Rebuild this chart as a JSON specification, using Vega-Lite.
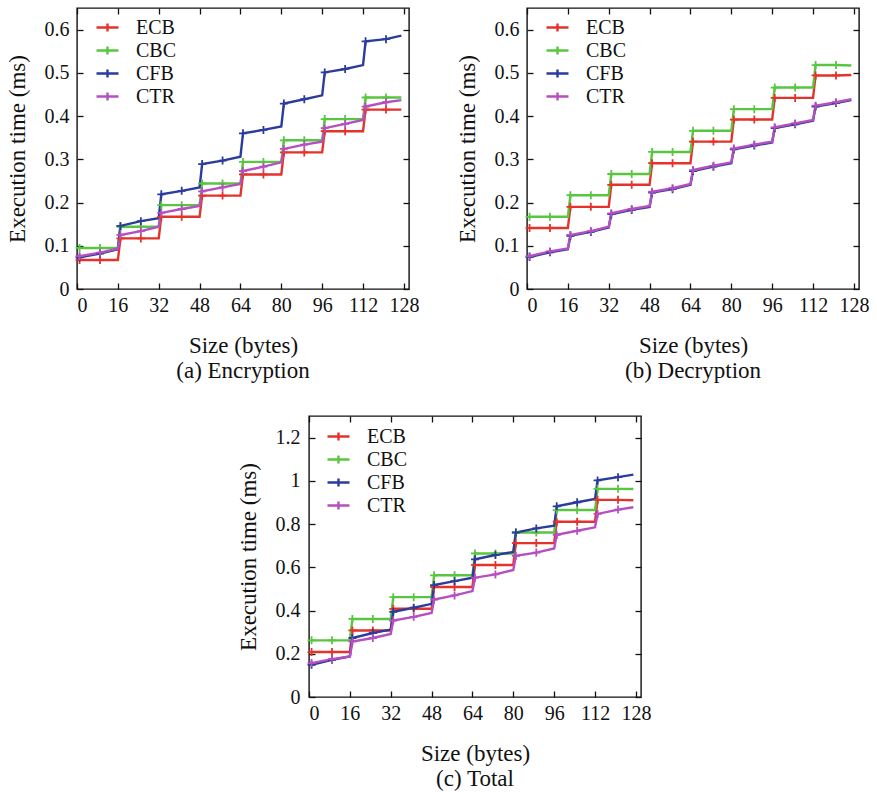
{
  "$schema": "https://vega.github.io/schema/vega-lite/v6.json",
  "padding": {"left": 5, "top": 6, "right": 5, "bottom": 5},
  "background": "white",
  "config": {
    "font": "Liberation Serif",
    "view": {"stroke": "#111", "strokeWidth": 1.4},
    "axis": {"domain": false, "grid": false, "ticks": true, "tickSize": 6, "tickColor": "#111", "tickWidth": 1.3, "labelFont": "Liberation Serif", "labelFontSize": 20, "labelColor": "#111", "titleFont": "Liberation Serif", "titleFontSize": 23, "titleFontWeight": "normal", "titleColor": "#111"},
    "legend": {"labelFont": "Liberation Serif", "labelFontSize": 20, "labelColor": "#111"},
    "title": {"font": "Liberation Serif", "fontSize": 23, "fontWeight": "normal", "color": "#111"}
  },
  "datasets": {
    "d": [
      {"p":"a","m":"ECB","s":1,"t":0.067,"k":1},{"p":"a","m":"ECB","s":9,"t":0.067,"k":1},{"p":"a","m":"ECB","s":16,"t":0.067,"k":0},
      {"p":"a","m":"ECB","s":17,"t":0.117,"k":1},{"p":"a","m":"ECB","s":25,"t":0.117,"k":1},{"p":"a","m":"ECB","s":32,"t":0.117,"k":0},
      {"p":"a","m":"ECB","s":33,"t":0.167,"k":1},{"p":"a","m":"ECB","s":41,"t":0.167,"k":1},{"p":"a","m":"ECB","s":48,"t":0.167,"k":0},
      {"p":"a","m":"ECB","s":49,"t":0.216,"k":1},{"p":"a","m":"ECB","s":57,"t":0.216,"k":1},{"p":"a","m":"ECB","s":64,"t":0.216,"k":0},
      {"p":"a","m":"ECB","s":65,"t":0.265,"k":1},{"p":"a","m":"ECB","s":73,"t":0.265,"k":1},{"p":"a","m":"ECB","s":80,"t":0.265,"k":0},
      {"p":"a","m":"ECB","s":81,"t":0.316,"k":1},{"p":"a","m":"ECB","s":89,"t":0.316,"k":1},{"p":"a","m":"ECB","s":96,"t":0.316,"k":0},
      {"p":"a","m":"ECB","s":97,"t":0.365,"k":1},{"p":"a","m":"ECB","s":105,"t":0.365,"k":1},{"p":"a","m":"ECB","s":112,"t":0.365,"k":0},
      {"p":"a","m":"ECB","s":113,"t":0.415,"k":1},{"p":"a","m":"ECB","s":121,"t":0.415,"k":1},{"p":"a","m":"ECB","s":127,"t":0.415,"k":0},
      {"p":"a","m":"CBC","s":1,"t":0.095,"k":1},{"p":"a","m":"CBC","s":9,"t":0.095,"k":1},{"p":"a","m":"CBC","s":16,"t":0.095,"k":0},
      {"p":"a","m":"CBC","s":17,"t":0.144,"k":1},{"p":"a","m":"CBC","s":25,"t":0.144,"k":1},{"p":"a","m":"CBC","s":32,"t":0.144,"k":0},
      {"p":"a","m":"CBC","s":33,"t":0.194,"k":1},{"p":"a","m":"CBC","s":41,"t":0.194,"k":1},{"p":"a","m":"CBC","s":48,"t":0.194,"k":0},
      {"p":"a","m":"CBC","s":49,"t":0.244,"k":1},{"p":"a","m":"CBC","s":57,"t":0.244,"k":1},{"p":"a","m":"CBC","s":64,"t":0.244,"k":0},
      {"p":"a","m":"CBC","s":65,"t":0.294,"k":1},{"p":"a","m":"CBC","s":73,"t":0.294,"k":1},{"p":"a","m":"CBC","s":80,"t":0.294,"k":0},
      {"p":"a","m":"CBC","s":81,"t":0.344,"k":1},{"p":"a","m":"CBC","s":89,"t":0.344,"k":1},{"p":"a","m":"CBC","s":96,"t":0.344,"k":0},
      {"p":"a","m":"CBC","s":97,"t":0.393,"k":1},{"p":"a","m":"CBC","s":105,"t":0.393,"k":1},{"p":"a","m":"CBC","s":112,"t":0.393,"k":0},
      {"p":"a","m":"CBC","s":113,"t":0.443,"k":1},{"p":"a","m":"CBC","s":121,"t":0.443,"k":1},{"p":"a","m":"CBC","s":127,"t":0.443,"k":0},
      {"p":"a","m":"CFB","s":1,"t":0.073,"k":1},{"p":"a","m":"CFB","s":9,"t":0.082,"k":1},{"p":"a","m":"CFB","s":16,"t":0.092,"k":0},
      {"p":"a","m":"CFB","s":17,"t":0.146,"k":1},{"p":"a","m":"CFB","s":25,"t":0.157,"k":1},{"p":"a","m":"CFB","s":32,"t":0.164,"k":0},
      {"p":"a","m":"CFB","s":33,"t":0.219,"k":1},{"p":"a","m":"CFB","s":41,"t":0.227,"k":1},{"p":"a","m":"CFB","s":48,"t":0.235,"k":0},
      {"p":"a","m":"CFB","s":49,"t":0.289,"k":1},{"p":"a","m":"CFB","s":57,"t":0.297,"k":1},{"p":"a","m":"CFB","s":64,"t":0.306,"k":0},
      {"p":"a","m":"CFB","s":65,"t":0.360,"k":1},{"p":"a","m":"CFB","s":73,"t":0.368,"k":1},{"p":"a","m":"CFB","s":80,"t":0.376,"k":0},
      {"p":"a","m":"CFB","s":81,"t":0.429,"k":1},{"p":"a","m":"CFB","s":89,"t":0.439,"k":1},{"p":"a","m":"CFB","s":96,"t":0.448,"k":0},
      {"p":"a","m":"CFB","s":97,"t":0.501,"k":1},{"p":"a","m":"CFB","s":105,"t":0.509,"k":1},{"p":"a","m":"CFB","s":112,"t":0.518,"k":0},
      {"p":"a","m":"CFB","s":113,"t":0.573,"k":1},{"p":"a","m":"CFB","s":121,"t":0.578,"k":1},{"p":"a","m":"CFB","s":127,"t":0.586,"k":0},
      {"p":"a","m":"CTR","s":1,"t":0.076,"k":1},{"p":"a","m":"CTR","s":9,"t":0.084,"k":1},{"p":"a","m":"CTR","s":16,"t":0.093,"k":0},
      {"p":"a","m":"CTR","s":17,"t":0.125,"k":1},{"p":"a","m":"CTR","s":25,"t":0.134,"k":1},{"p":"a","m":"CTR","s":32,"t":0.144,"k":0},
      {"p":"a","m":"CTR","s":33,"t":0.176,"k":1},{"p":"a","m":"CTR","s":41,"t":0.185,"k":1},{"p":"a","m":"CTR","s":48,"t":0.192,"k":0},
      {"p":"a","m":"CTR","s":49,"t":0.226,"k":1},{"p":"a","m":"CTR","s":57,"t":0.235,"k":1},{"p":"a","m":"CTR","s":64,"t":0.243,"k":0},
      {"p":"a","m":"CTR","s":65,"t":0.273,"k":1},{"p":"a","m":"CTR","s":73,"t":0.283,"k":1},{"p":"a","m":"CTR","s":80,"t":0.293,"k":0},
      {"p":"a","m":"CTR","s":81,"t":0.324,"k":1},{"p":"a","m":"CTR","s":89,"t":0.334,"k":1},{"p":"a","m":"CTR","s":96,"t":0.341,"k":0},
      {"p":"a","m":"CTR","s":97,"t":0.372,"k":1},{"p":"a","m":"CTR","s":105,"t":0.382,"k":1},{"p":"a","m":"CTR","s":112,"t":0.391,"k":0},
      {"p":"a","m":"CTR","s":113,"t":0.422,"k":1},{"p":"a","m":"CTR","s":121,"t":0.432,"k":1},{"p":"a","m":"CTR","s":127,"t":0.437,"k":0},

      {"p":"b","m":"ECB","s":1,"t":0.141,"k":1},{"p":"b","m":"ECB","s":9,"t":0.141,"k":1},{"p":"b","m":"ECB","s":16,"t":0.141,"k":0},
      {"p":"b","m":"ECB","s":17,"t":0.190,"k":1},{"p":"b","m":"ECB","s":25,"t":0.190,"k":1},{"p":"b","m":"ECB","s":32,"t":0.190,"k":0},
      {"p":"b","m":"ECB","s":33,"t":0.241,"k":1},{"p":"b","m":"ECB","s":41,"t":0.241,"k":1},{"p":"b","m":"ECB","s":48,"t":0.241,"k":0},
      {"p":"b","m":"ECB","s":49,"t":0.291,"k":1},{"p":"b","m":"ECB","s":57,"t":0.291,"k":1},{"p":"b","m":"ECB","s":64,"t":0.291,"k":0},
      {"p":"b","m":"ECB","s":65,"t":0.341,"k":1},{"p":"b","m":"ECB","s":73,"t":0.341,"k":1},{"p":"b","m":"ECB","s":80,"t":0.341,"k":0},
      {"p":"b","m":"ECB","s":81,"t":0.392,"k":1},{"p":"b","m":"ECB","s":89,"t":0.392,"k":1},{"p":"b","m":"ECB","s":96,"t":0.392,"k":0},
      {"p":"b","m":"ECB","s":97,"t":0.442,"k":1},{"p":"b","m":"ECB","s":105,"t":0.442,"k":1},{"p":"b","m":"ECB","s":112,"t":0.442,"k":0},
      {"p":"b","m":"ECB","s":113,"t":0.494,"k":1},{"p":"b","m":"ECB","s":121,"t":0.494,"k":1},{"p":"b","m":"ECB","s":127,"t":0.495,"k":0},
      {"p":"b","m":"CBC","s":1,"t":0.167,"k":1},{"p":"b","m":"CBC","s":9,"t":0.167,"k":1},{"p":"b","m":"CBC","s":16,"t":0.167,"k":0},
      {"p":"b","m":"CBC","s":17,"t":0.217,"k":1},{"p":"b","m":"CBC","s":25,"t":0.217,"k":1},{"p":"b","m":"CBC","s":32,"t":0.217,"k":0},
      {"p":"b","m":"CBC","s":33,"t":0.266,"k":1},{"p":"b","m":"CBC","s":41,"t":0.266,"k":1},{"p":"b","m":"CBC","s":48,"t":0.266,"k":0},
      {"p":"b","m":"CBC","s":49,"t":0.317,"k":1},{"p":"b","m":"CBC","s":57,"t":0.317,"k":1},{"p":"b","m":"CBC","s":64,"t":0.317,"k":0},
      {"p":"b","m":"CBC","s":65,"t":0.366,"k":1},{"p":"b","m":"CBC","s":73,"t":0.366,"k":1},{"p":"b","m":"CBC","s":80,"t":0.366,"k":0},
      {"p":"b","m":"CBC","s":81,"t":0.416,"k":1},{"p":"b","m":"CBC","s":89,"t":0.416,"k":1},{"p":"b","m":"CBC","s":96,"t":0.416,"k":0},
      {"p":"b","m":"CBC","s":97,"t":0.466,"k":1},{"p":"b","m":"CBC","s":105,"t":0.466,"k":1},{"p":"b","m":"CBC","s":112,"t":0.466,"k":0},
      {"p":"b","m":"CBC","s":113,"t":0.518,"k":1},{"p":"b","m":"CBC","s":121,"t":0.518,"k":1},{"p":"b","m":"CBC","s":127,"t":0.517,"k":0},
      {"p":"b","m":"CFB","s":1,"t":0.074,"k":1},{"p":"b","m":"CFB","s":9,"t":0.085,"k":1},{"p":"b","m":"CFB","s":16,"t":0.092,"k":0},
      {"p":"b","m":"CFB","s":17,"t":0.123,"k":1},{"p":"b","m":"CFB","s":25,"t":0.132,"k":1},{"p":"b","m":"CFB","s":32,"t":0.142,"k":0},
      {"p":"b","m":"CFB","s":33,"t":0.173,"k":1},{"p":"b","m":"CFB","s":41,"t":0.183,"k":1},{"p":"b","m":"CFB","s":48,"t":0.190,"k":0},
      {"p":"b","m":"CFB","s":49,"t":0.223,"k":1},{"p":"b","m":"CFB","s":57,"t":0.231,"k":1},{"p":"b","m":"CFB","s":64,"t":0.241,"k":0},
      {"p":"b","m":"CFB","s":65,"t":0.273,"k":1},{"p":"b","m":"CFB","s":73,"t":0.283,"k":1},{"p":"b","m":"CFB","s":80,"t":0.291,"k":0},
      {"p":"b","m":"CFB","s":81,"t":0.323,"k":1},{"p":"b","m":"CFB","s":89,"t":0.332,"k":1},{"p":"b","m":"CFB","s":96,"t":0.339,"k":0},
      {"p":"b","m":"CFB","s":97,"t":0.372,"k":1},{"p":"b","m":"CFB","s":105,"t":0.381,"k":1},{"p":"b","m":"CFB","s":112,"t":0.389,"k":0},
      {"p":"b","m":"CFB","s":113,"t":0.422,"k":1},{"p":"b","m":"CFB","s":121,"t":0.430,"k":1},{"p":"b","m":"CFB","s":127,"t":0.437,"k":0},
      {"p":"b","m":"CTR","s":1,"t":0.076,"k":1},{"p":"b","m":"CTR","s":9,"t":0.087,"k":1},{"p":"b","m":"CTR","s":16,"t":0.094,"k":0},
      {"p":"b","m":"CTR","s":17,"t":0.125,"k":1},{"p":"b","m":"CTR","s":25,"t":0.134,"k":1},{"p":"b","m":"CTR","s":32,"t":0.144,"k":0},
      {"p":"b","m":"CTR","s":33,"t":0.175,"k":1},{"p":"b","m":"CTR","s":41,"t":0.185,"k":1},{"p":"b","m":"CTR","s":48,"t":0.192,"k":0},
      {"p":"b","m":"CTR","s":49,"t":0.225,"k":1},{"p":"b","m":"CTR","s":57,"t":0.233,"k":1},{"p":"b","m":"CTR","s":64,"t":0.243,"k":0},
      {"p":"b","m":"CTR","s":65,"t":0.275,"k":1},{"p":"b","m":"CTR","s":73,"t":0.285,"k":1},{"p":"b","m":"CTR","s":80,"t":0.293,"k":0},
      {"p":"b","m":"CTR","s":81,"t":0.325,"k":1},{"p":"b","m":"CTR","s":89,"t":0.334,"k":1},{"p":"b","m":"CTR","s":96,"t":0.341,"k":0},
      {"p":"b","m":"CTR","s":97,"t":0.374,"k":1},{"p":"b","m":"CTR","s":105,"t":0.383,"k":1},{"p":"b","m":"CTR","s":112,"t":0.391,"k":0},
      {"p":"b","m":"CTR","s":113,"t":0.424,"k":1},{"p":"b","m":"CTR","s":121,"t":0.432,"k":1},{"p":"b","m":"CTR","s":127,"t":0.439,"k":0},

      {"p":"c","m":"ECB","s":1,"t":0.208,"k":1},{"p":"c","m":"ECB","s":9,"t":0.208,"k":1},{"p":"c","m":"ECB","s":16,"t":0.208,"k":0},
      {"p":"c","m":"ECB","s":17,"t":0.308,"k":1},{"p":"c","m":"ECB","s":25,"t":0.308,"k":1},{"p":"c","m":"ECB","s":32,"t":0.308,"k":0},
      {"p":"c","m":"ECB","s":33,"t":0.408,"k":1},{"p":"c","m":"ECB","s":41,"t":0.408,"k":1},{"p":"c","m":"ECB","s":48,"t":0.408,"k":0},
      {"p":"c","m":"ECB","s":49,"t":0.509,"k":1},{"p":"c","m":"ECB","s":57,"t":0.509,"k":1},{"p":"c","m":"ECB","s":64,"t":0.509,"k":0},
      {"p":"c","m":"ECB","s":65,"t":0.611,"k":1},{"p":"c","m":"ECB","s":73,"t":0.611,"k":1},{"p":"c","m":"ECB","s":80,"t":0.611,"k":0},
      {"p":"c","m":"ECB","s":81,"t":0.712,"k":1},{"p":"c","m":"ECB","s":89,"t":0.712,"k":1},{"p":"c","m":"ECB","s":96,"t":0.712,"k":0},
      {"p":"c","m":"ECB","s":97,"t":0.811,"k":1},{"p":"c","m":"ECB","s":105,"t":0.811,"k":1},{"p":"c","m":"ECB","s":112,"t":0.811,"k":0},
      {"p":"c","m":"ECB","s":113,"t":0.912,"k":1},{"p":"c","m":"ECB","s":121,"t":0.912,"k":1},{"p":"c","m":"ECB","s":127,"t":0.910,"k":0},
      {"p":"c","m":"CBC","s":1,"t":0.262,"k":1},{"p":"c","m":"CBC","s":9,"t":0.262,"k":1},{"p":"c","m":"CBC","s":16,"t":0.262,"k":0},
      {"p":"c","m":"CBC","s":17,"t":0.361,"k":1},{"p":"c","m":"CBC","s":25,"t":0.361,"k":1},{"p":"c","m":"CBC","s":32,"t":0.361,"k":0},
      {"p":"c","m":"CBC","s":33,"t":0.462,"k":1},{"p":"c","m":"CBC","s":41,"t":0.462,"k":1},{"p":"c","m":"CBC","s":48,"t":0.462,"k":0},
      {"p":"c","m":"CBC","s":49,"t":0.563,"k":1},{"p":"c","m":"CBC","s":57,"t":0.563,"k":1},{"p":"c","m":"CBC","s":64,"t":0.563,"k":0},
      {"p":"c","m":"CBC","s":65,"t":0.664,"k":1},{"p":"c","m":"CBC","s":73,"t":0.664,"k":1},{"p":"c","m":"CBC","s":80,"t":0.664,"k":0},
      {"p":"c","m":"CBC","s":81,"t":0.761,"k":1},{"p":"c","m":"CBC","s":89,"t":0.761,"k":1},{"p":"c","m":"CBC","s":96,"t":0.761,"k":0},
      {"p":"c","m":"CBC","s":97,"t":0.865,"k":1},{"p":"c","m":"CBC","s":105,"t":0.865,"k":1},{"p":"c","m":"CBC","s":112,"t":0.865,"k":0},
      {"p":"c","m":"CBC","s":113,"t":0.963,"k":1},{"p":"c","m":"CBC","s":121,"t":0.963,"k":1},{"p":"c","m":"CBC","s":127,"t":0.962,"k":0},
      {"p":"c","m":"CFB","s":1,"t":0.149,"k":1},{"p":"c","m":"CFB","s":9,"t":0.172,"k":1},{"p":"c","m":"CFB","s":16,"t":0.188,"k":0},
      {"p":"c","m":"CFB","s":17,"t":0.273,"k":1},{"p":"c","m":"CFB","s":25,"t":0.296,"k":1},{"p":"c","m":"CFB","s":32,"t":0.312,"k":0},
      {"p":"c","m":"CFB","s":33,"t":0.394,"k":1},{"p":"c","m":"CFB","s":41,"t":0.413,"k":1},{"p":"c","m":"CFB","s":48,"t":0.431,"k":0},
      {"p":"c","m":"CFB","s":49,"t":0.518,"k":1},{"p":"c","m":"CFB","s":57,"t":0.536,"k":1},{"p":"c","m":"CFB","s":64,"t":0.552,"k":0},
      {"p":"c","m":"CFB","s":65,"t":0.637,"k":1},{"p":"c","m":"CFB","s":73,"t":0.657,"k":1},{"p":"c","m":"CFB","s":80,"t":0.671,"k":0},
      {"p":"c","m":"CFB","s":81,"t":0.761,"k":1},{"p":"c","m":"CFB","s":89,"t":0.780,"k":1},{"p":"c","m":"CFB","s":96,"t":0.792,"k":0},
      {"p":"c","m":"CFB","s":97,"t":0.882,"k":1},{"p":"c","m":"CFB","s":105,"t":0.901,"k":1},{"p":"c","m":"CFB","s":112,"t":0.916,"k":0},
      {"p":"c","m":"CFB","s":113,"t":1.002,"k":1},{"p":"c","m":"CFB","s":121,"t":1.017,"k":1},{"p":"c","m":"CFB","s":127,"t":1.029,"k":0},
      {"p":"c","m":"CTR","s":1,"t":0.157,"k":1},{"p":"c","m":"CTR","s":9,"t":0.175,"k":1},{"p":"c","m":"CTR","s":16,"t":0.188,"k":0},
      {"p":"c","m":"CTR","s":17,"t":0.257,"k":1},{"p":"c","m":"CTR","s":25,"t":0.273,"k":1},{"p":"c","m":"CTR","s":32,"t":0.292,"k":0},
      {"p":"c","m":"CTR","s":33,"t":0.354,"k":1},{"p":"c","m":"CTR","s":41,"t":0.371,"k":1},{"p":"c","m":"CTR","s":48,"t":0.389,"k":0},
      {"p":"c","m":"CTR","s":49,"t":0.451,"k":1},{"p":"c","m":"CTR","s":57,"t":0.470,"k":1},{"p":"c","m":"CTR","s":64,"t":0.490,"k":0},
      {"p":"c","m":"CTR","s":65,"t":0.552,"k":1},{"p":"c","m":"CTR","s":73,"t":0.567,"k":1},{"p":"c","m":"CTR","s":80,"t":0.588,"k":0},
      {"p":"c","m":"CTR","s":81,"t":0.653,"k":1},{"p":"c","m":"CTR","s":89,"t":0.668,"k":1},{"p":"c","m":"CTR","s":96,"t":0.687,"k":0},
      {"p":"c","m":"CTR","s":97,"t":0.750,"k":1},{"p":"c","m":"CTR","s":105,"t":0.769,"k":1},{"p":"c","m":"CTR","s":112,"t":0.785,"k":0},
      {"p":"c","m":"CTR","s":113,"t":0.847,"k":1},{"p":"c","m":"CTR","s":121,"t":0.867,"k":1},{"p":"c","m":"CTR","s":127,"t":0.878,"k":0}
    ]
  },
  "vconcat": [
    {
      "hconcat": [
        {
          "width": 332, "height": 281,
          "data": {"name": "d"},
          "transform": [{"filter": "datum.p == 'a'"}],
          "title": {"text": "(a) Encryption", "orient": "bottom", "offset": 3},
          "layer": [
            {
              "mark": {"type": "line", "strokeWidth": 2.4},
              "encoding": {
                "x": {"field": "s", "type": "quantitative", "scale": {"domain": [0, 128]}, "axis": {"orient": "bottom", "values": [0,16,32,48,64,80,96,112,128], "offset": -6, "labelPadding": 6, "title": "Size (bytes)", "titlePadding": 19}},
                "y": {"field": "t", "type": "quantitative", "scale": {"domain": [0, 0.65]}, "axis": {"orient": "left", "values": [0,0.1,0.2,0.3,0.4,0.5,0.6], "format": "~g", "offset": -6, "labelPadding": 8, "title": "Execution time (ms)", "titlePadding": 15}},
                "color": {"field": "m", "type": "nominal", "scale": {"domain": ["ECB","CBC","CFB","CTR"], "range": ["#e4332b","#58c640","#2b3c9c","#b64fbf"]}, "legend": {"orient": "none", "legendX": 18, "legendY": 7, "title": null, "symbolType": "M-1,0H1M0,-0.36V0.36", "symbolSize": 484, "symbolStrokeWidth": 2.4, "labelOffset": 16, "rowPadding": 0}}
              }
            },
            {
              "transform": [{"filter": "datum.k == 1"}],
              "mark": {"type": "point", "shape": "M-1,0H1M0,-1V1", "filled": false, "size": 64, "strokeWidth": 1.8, "opacity": 1},
              "encoding": {
                "x": {"field": "s", "type": "quantitative", "axis": {"orient": "top", "values": [0,16,32,48,64,80,96,112,128], "offset": -6, "labels": false, "title": null}},
                "y": {"field": "t", "type": "quantitative", "axis": {"orient": "right", "values": [0,0.1,0.2,0.3,0.4,0.5,0.6], "offset": -6, "labels": false, "title": null}},
                "color": {"field": "m", "type": "nominal"}
              }
            }
          ],
          "resolve": {"axis": {"x": "independent", "y": "independent"}}
        },
        {
          "width": 332, "height": 281,
          "data": {"name": "d"},
          "transform": [{"filter": "datum.p == 'b'"}],
          "title": {"text": "(b) Decryption", "orient": "bottom", "offset": 3},
          "layer": [
            {
              "mark": {"type": "line", "strokeWidth": 2.4},
              "encoding": {
                "x": {"field": "s", "type": "quantitative", "scale": {"domain": [0, 128]}, "axis": {"orient": "bottom", "values": [0,16,32,48,64,80,96,112,128], "offset": -6, "labelPadding": 6, "title": "Size (bytes)", "titlePadding": 19}},
                "y": {"field": "t", "type": "quantitative", "scale": {"domain": [0, 0.65]}, "axis": {"orient": "left", "values": [0,0.1,0.2,0.3,0.4,0.5,0.6], "format": "~g", "offset": -6, "labelPadding": 8, "title": "Execution time (ms)", "titlePadding": 15}},
                "color": {"field": "m", "type": "nominal", "scale": {"domain": ["ECB","CBC","CFB","CTR"], "range": ["#e4332b","#58c640","#2b3c9c","#b64fbf"]}, "legend": {"orient": "none", "legendX": 18, "legendY": 7, "title": null, "symbolType": "M-1,0H1M0,-0.36V0.36", "symbolSize": 484, "symbolStrokeWidth": 2.4, "labelOffset": 16, "rowPadding": 0}}
              }
            },
            {
              "transform": [{"filter": "datum.k == 1"}],
              "mark": {"type": "point", "shape": "M-1,0H1M0,-1V1", "filled": false, "size": 64, "strokeWidth": 1.8, "opacity": 1},
              "encoding": {
                "x": {"field": "s", "type": "quantitative", "axis": {"orient": "top", "values": [0,16,32,48,64,80,96,112,128], "offset": -6, "labels": false, "title": null}},
                "y": {"field": "t", "type": "quantitative", "axis": {"orient": "right", "values": [0,0.1,0.2,0.3,0.4,0.5,0.6], "offset": -6, "labels": false, "title": null}},
                "color": {"field": "m", "type": "nominal"}
              }
            }
          ],
          "resolve": {"axis": {"x": "independent", "y": "independent"}}
        }
      ],
      "spacing": 118,
      "bounds": "flush",
      "resolve": {"scale": {"color": "independent"}, "legend": {"color": "independent"}}
    },
    {
      "hconcat": [
        {
          "width": 1, "height": 1,
          "view": {"stroke": null},
          "data": {"values": [{"z": 0}]},
          "mark": {"type": "rect", "opacity": 0},
          "encoding": {}
        },
        {
          "width": 332, "height": 281,
          "data": {"name": "d"},
          "transform": [{"filter": "datum.p == 'c'"}],
          "title": {"text": "(c) Total", "orient": "bottom", "offset": 3},
          "layer": [
            {
              "mark": {"type": "line", "strokeWidth": 2.4},
              "encoding": {
                "x": {"field": "s", "type": "quantitative", "scale": {"domain": [0, 128]}, "axis": {"orient": "bottom", "values": [0,16,32,48,64,80,96,112,128], "offset": -6, "labelPadding": 6, "title": "Size (bytes)", "titlePadding": 19}},
                "y": {"field": "t", "type": "quantitative", "scale": {"domain": [0, 1.3]}, "axis": {"orient": "left", "values": [0,0.2,0.4,0.6,0.8,1,1.2], "format": "~g", "offset": -6, "labelPadding": 9, "title": "Execution time (ms)", "titlePadding": 15}},
                "color": {"field": "m", "type": "nominal", "scale": {"domain": ["ECB","CBC","CFB","CTR"], "range": ["#e4332b","#58c640","#2b3c9c","#b64fbf"]}, "legend": {"orient": "none", "legendX": 17, "legendY": 8, "title": null, "symbolType": "M-1,0H1M0,-0.36V0.36", "symbolSize": 484, "symbolStrokeWidth": 2.4, "labelOffset": 16, "rowPadding": 0}}
              }
            },
            {
              "transform": [{"filter": "datum.k == 1"}],
              "mark": {"type": "point", "shape": "M-1,0H1M0,-1V1", "filled": false, "size": 64, "strokeWidth": 1.8, "opacity": 1},
              "encoding": {
                "x": {"field": "s", "type": "quantitative", "axis": {"orient": "top", "values": [0,16,32,48,64,80,96,112,128], "offset": -6, "labels": false, "title": null}},
                "y": {"field": "t", "type": "quantitative", "axis": {"orient": "right", "values": [0,0.2,0.4,0.6,0.8,1,1.2], "offset": -6, "labels": false, "title": null}},
                "color": {"field": "m", "type": "nominal"}
              }
            }
          ],
          "resolve": {"axis": {"x": "independent", "y": "independent"}}
        }
      ],
      "spacing": 158,
      "resolve": {"scale": {"color": "independent"}, "legend": {"color": "independent"}}
    }
  ],
  "spacing": 30,
  "resolve": {"scale": {"color": "independent"}, "legend": {"color": "independent"}}
}
